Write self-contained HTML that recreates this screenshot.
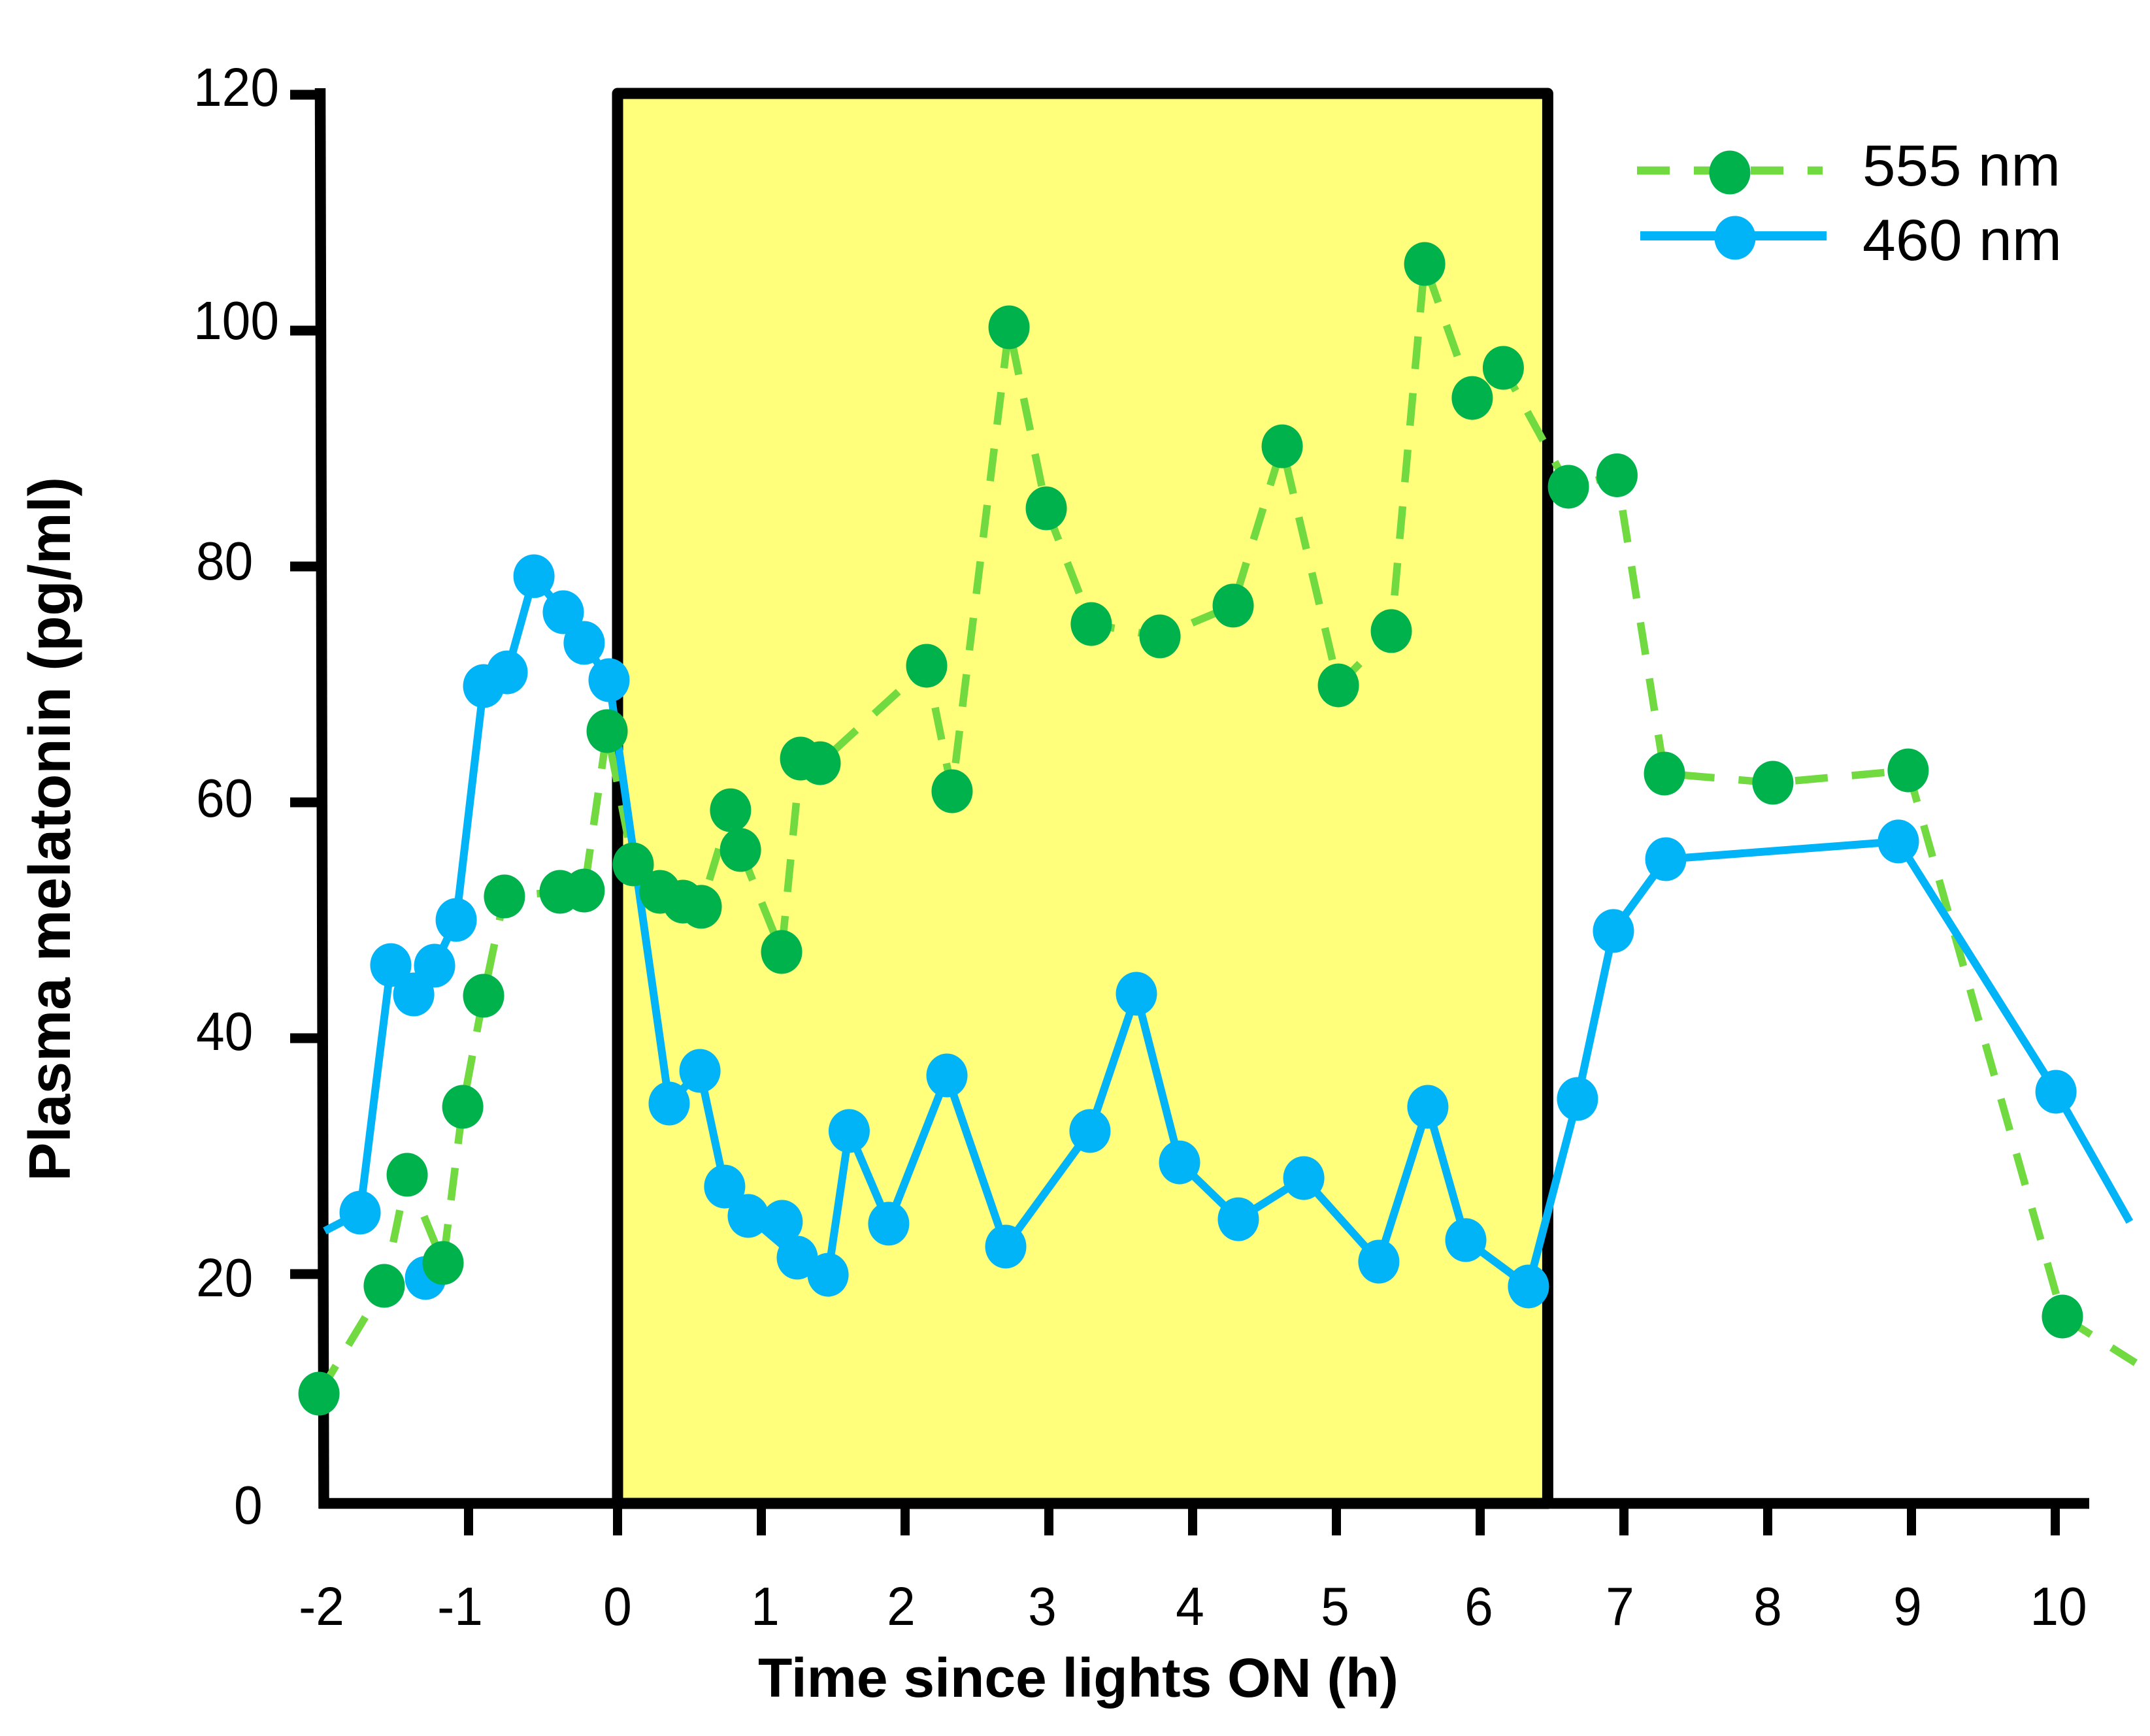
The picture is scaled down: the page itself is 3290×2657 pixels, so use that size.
<!DOCTYPE html>
<html lang="en">
<head>
<meta charset="utf-8">
<title>Plasma melatonin vs time since lights ON</title>
<style>
  html, body { margin: 0; padding: 0; background: #fff; }
  svg { display: block; font-family: "Liberation Sans", Arial, sans-serif; }
  text { fill: #000; }
</style>
</head>
<body>
<svg id="chart" xmlns="http://www.w3.org/2000/svg" width="3290" height="2657" viewBox="0 0 3290 2657">
  <rect x="0" y="0" width="3290" height="2657" fill="#ffffff"/>
  <g id="light-layer"></g>
  <g id="axes-layer"></g>
  <g id="series-layer"></g>
  <text x="1160" y="2597" font-size="84" font-weight="700" textLength="980" lengthAdjust="spacingAndGlyphs">Time since lights ON (h)</text>
  <text transform="translate(107,1808) rotate(-90)" font-size="90" font-weight="700" textLength="1078" lengthAdjust="spacingAndGlyphs">Plasma melatonin (pg/ml)</text>
  <g>
    <g>
      <line x1="2505" y1="261" x2="2789" y2="261" stroke="#70DA40" stroke-width="12.5" stroke-dasharray="50 37"/>
      <ellipse cx="2647" cy="264" rx="31.5" ry="33.5" fill="#00B24C"/>
      <text x="2850" y="284" font-size="89" textLength="303" lengthAdjust="spacingAndGlyphs">555 nm</text>
    </g>
    <g>
      <line x1="2510" y1="361" x2="2795" y2="361" stroke="#00B4F7" stroke-width="14"/>
      <ellipse cx="2655" cy="364" rx="31.5" ry="33.5" fill="#00B4F7"/>
      <text x="2850" y="398" font-size="89" textLength="305" lengthAdjust="spacingAndGlyphs">460 nm</text>
    </g>
  </g>
</svg>
<script>
const yTickValues = [120, 100, 80, 60, 40, 20];
const yLabelValues = [120, 100, 80, 60, 40, 20, 0];
const xTickValues = [-1, 0, 1, 2, 3, 4, 5, 6, 7, 8, 9, 10];
const xLabelValues = [-2, -1, 0, 1, 2, 3, 4, 5, 6, 7, 8, 9, 10];
const lightPeriod = [0, 6.47];

const hours555 = [-2.004, -1.566, -1.412, -1.171, -1.039, -0.899, -0.759, -0.386, -0.224, -0.07, 0.109, 0.295, 0.455, 0.582, 0.786, 0.855, 1.141, 1.273, 1.409, 2.15, 2.327, 2.723, 2.982, 3.295, 3.773, 4.282, 4.623, 5.014, 5.382, 5.614, 5.945, 6.161, 6.614, 6.952, 7.282, 8.036, 8.977, 10.05];
const values555 = [9.86, 19.0, 28.42, 20.94, 34.18, 43.6, 52.02, 52.41, 52.52, 66.04, 54.74, 52.41, 51.58, 51.14, 59.33, 55.96, 47.31, 63.71, 63.32, 71.58, 60.94, 100.28, 84.93, 75.12, 74.07, 76.68, 90.19, 69.92, 74.52, 105.65, 94.29, 96.84, 86.76, 87.73, 62.44, 61.66, 62.71, 16.4];
const tailHours555 = [10.559];
const tailValues555 = [12.47];

const headHours460 = [-1.965];
const headValues460 = [23.66];
const hours460 = [-1.728, -1.522, -1.368, -1.228, -1.083, -0.899, -0.741, -0.561, -0.364, -0.224, -0.057, 0.359, 0.573, 0.745, 0.909, 1.25, 1.464, 1.611, 1.886, 2.291, 2.7, 3.286, 3.609, 3.909, 4.318, 4.773, 5.295, 5.636, 5.9, 6.336, 6.677, 6.927, 7.291, 8.909, 10.005];
const values460 = [25.21, 46.2, 43.71, 46.15, 50.03, 69.86, 71.02, 79.17, 76.12, 73.52, 70.36, 34.46, 37.23, 27.42, 24.93, 21.39, 19.94, 32.13, 24.27, 36.84, 22.33, 32.13, 43.77, 29.47, 24.65, 28.14, 21.05, 34.18, 22.88, 18.95, 34.85, 49.09, 55.18, 56.68, 35.46];
const tailHours460 = [10.518];
const tailValues460 = [24.43];
const strayHours460 = [-1.289, 1.145];
const strayValues460 = [19.67, 24.43];

const SVGNS = 'http://www.w3.org/2000/svg';
const BASELINE_Y = 2301;
const GREEN_LINE = '#70DA40';
const GREEN_DOT = '#00B24C';
const BLUE = '#00B4F7';

function xScale(t) { return 945 + t * (t < 0 ? 228 : 220); }
function yScale(v) { return 2311 - v * 18.05; }

/* hand-placed label offsets of the original figure */
function yLabelNudge(v) {
  const nudges = { 120: 17, 100: 13, 80: 20, 60: 22, 40: 18, 20: 34, 0: 21 };
  return nudges[v] === undefined ? 22 : nudges[v];
}
function xLabelNudge(t) {
  const nudges = { '-2': 3, '-1': -13, 1: 6, 2: -6, 3: -10, 4: -4, 5: -2, 6: -2, 7: -6, 8: 0, 9: -6, 10: 5 };
  return nudges[t] === undefined ? 0 : nudges[t];
}

function make(parent, tag, attrs) {
  const el = document.createElementNS(SVGNS, tag);
  for (const k in attrs) el.setAttribute(k, attrs[k]);
  parent.appendChild(el);
  return el;
}

const lightLayer = document.getElementById('light-layer');
const axesLayer = document.getElementById('axes-layer');
const seriesLayer = document.getElementById('series-layer');

const lightRect = make(lightLayer, 'rect', {
  x: xScale(lightPeriod[0]),
  y: yScale(120) - 2,
  width: xScale(lightPeriod[1]) - xScale(lightPeriod[0]),
  height: BASELINE_Y - yScale(120) + 2,
  fill: '#FFFF7C',
  stroke: '#000',
  'stroke-width': 17,
  'stroke-linejoin': 'round'
});



const yAxisLine = make(axesLayer, 'line', { x1: 490, y1: 135, x2: 495.5, y2: 2309, stroke: '#000', 'stroke-width': 16.5 });



const xAxisLine = make(axesLayer, 'line', { x1: 488, y1: BASELINE_Y, x2: 3197, y2: BASELINE_Y, stroke: '#000', 'stroke-width': 16.5 });



yTickValues.forEach(function (v) {
  const tick = make(axesLayer, 'line', { x1: 444, y1: yScale(v), x2: 492, y2: yScale(v), stroke: '#000', 'stroke-width': 15 });
  
  
});

yLabelValues.forEach(function (v) {
  const s = String(v);
  const lx = s.length === 3 ? 296 : (s.length === 2 ? 300 : 358);
  const label = make(axesLayer, 'text', {
    transform: 'translate(' + lx + ',' + (yScale(v) + yLabelNudge(v)) + ') scale(0.946,1)',
    'font-size': 83
  });
  label.textContent = s;
  
  
});

xTickValues.forEach(function (t) {
  const tick = make(axesLayer, 'line', { x1: xScale(t), y1: BASELINE_Y, x2: xScale(t), y2: 2350, stroke: '#000', 'stroke-width': 14 });
  
  
});

xLabelValues.forEach(function (t) {
  const label = make(axesLayer, 'text', {
    transform: 'translate(' + (xScale(t) + xLabelNudge(t)) + ',2487) scale(0.946,1)',
    'font-size': 83,
    'text-anchor': 'middle'
  });
  label.textContent = String(t);
  
  
});

function pointsOf(hs, vs) {
  return hs.map(function (h, i) { return xScale(h) + ',' + yScale(vs[i]); }).join(' ');
}

const line555 = make(seriesLayer, 'polyline', {
  points: pointsOf(hours555.concat(tailHours555), values555.concat(tailValues555)),
  fill: 'none',
  stroke: GREEN_LINE,
  'stroke-width': 11.5,
  'stroke-dasharray': '50 37'
});



const line460 = make(seriesLayer, 'polyline', {
  points: pointsOf(headHours460.concat(hours460, tailHours460), headValues460.concat(values460, tailValues460)),
  fill: 'none',
  stroke: BLUE,
  'stroke-width': 12,
  'stroke-linejoin': 'miter'
});



function addDots(hs, vs, color, name) {
  hs.forEach(function (h, i) {
    const dot = make(seriesLayer, 'ellipse', { cx: xScale(h), cy: yScale(vs[i]), rx: 31.5, ry: 33.5, fill: color });
    
    
  });
}

addDots(hours460, values460, BLUE, 'point-460nm');
addDots(strayHours460, strayValues460, BLUE, 'point-460nm-unconnected');
addDots(hours555, values555, GREEN_DOT, 'point-555nm');
</script>
</body>
</html>
